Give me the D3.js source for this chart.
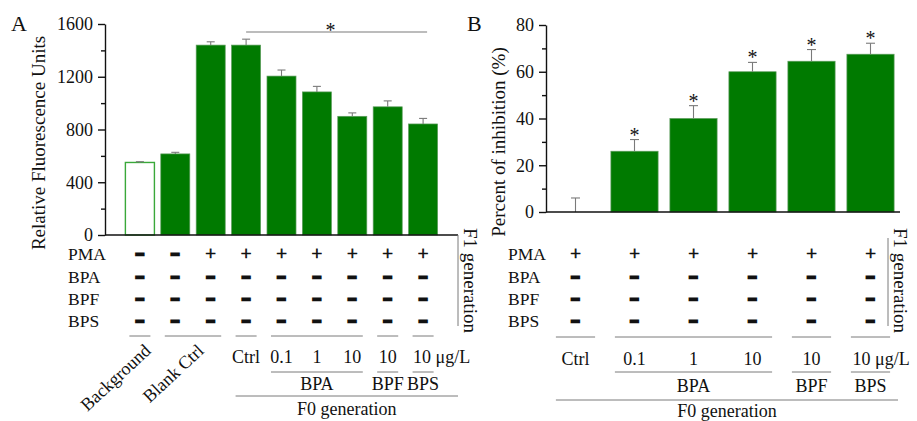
<!DOCTYPE html>
<html>
<head>
<meta charset="utf-8">
<script src="https://cdn.jsdelivr.net/npm/d3@7"></script>
<style>
  body { margin: 0; background: #fff; }
  svg text { font-family: "Liberation Serif", "Times New Roman", serif; fill: #111; }
</style>
</head>
<body>
<svg id="chart" width="917" height="421"></svg>
<script>
// ---- panel A: relative fluorescence, one bar per column ----
var colsA   = ["Background", "Blank Ctrl -", "Blank Ctrl +", "Ctrl", "BPA 0.1", "BPA 1", "BPA 10", "BPF 10", "BPS 10"];
var valuesA = [550, 615, 1440, 1440, 1205, 1085, 900, 972, 842];
var errorsA = [6, 12, 25, 45, 46, 42, 26, 45, 42];
var pmaA    = ["-", "-", "+", "+", "+", "+", "+", "+", "+"];
var doseA   = ["", "", "", "Ctrl", "0.1", "1", "10", "10", "10"];
var ticksA  = [0, 400, 800, 1200, 1600];
var minorA  = [200, 600, 1000, 1400];
// underline groups: [label, first col, last col]
var groupsA = [["Background", 0, 0], ["Blank Ctrl", 1, 2], ["", 3, 3], ["", 4, 6], ["", 7, 7], ["", 8, 8]];
var compA   = [["BPA", 4, 6], ["BPF", 7, 7], ["BPS", 8, 8]];
var f0A     = [3, 8];

// ---- panel B: percent of inhibition ----
var colsB   = ["Ctrl", "BPA 0.1", "BPA 1", "BPA 10", "BPF 10", "BPS 10"];
var valuesB = [0, 26, 40, 60, 64.5, 67.5];
var errorsB = [6, 5, 5.5, 4, 5, 4.7];
var sigB    = [false, true, true, true, true, true];
var pmaB    = ["+", "+", "+", "+", "+", "+"];
var doseB   = ["Ctrl", "0.1", "1", "10", "10", "10"];
var ticksB  = [0, 20, 40, 60, 80];
var minorB  = [10, 30, 50, 70];
var groupsB = [["", 0, 0], ["", 1, 3], ["", 4, 4], ["", 5, 5]];
var compB   = [["BPA", 1, 3], ["BPF", 4, 4], ["BPS", 5, 5]];
var f0B     = [0, 5];

var rowNames = ["PMA", "BPA", "BPF", "BPS"];

var GREEN = "#007a00", GREY = "#7a7a7a";
var svg = d3.select("#chart");

function drawPanel(p) {
  var g = svg.append("g");
  var x = d3.scaleBand().domain(d3.range(p.cols.length)).range(p.xr)
            .paddingInner(p.pi).paddingOuter(p.po);
  var y = d3.scaleLinear().domain(p.yDomain).range(p.yr);
  var bw = x.bandwidth();
  var cx = function(i) { return x(i) + bw / 2; };

  // bars
  g.selectAll("rect.bar").data(p.values).enter().append("rect")
    .attr("x", function(d, i) { return x(i); })
    .attr("y", function(d) { return y(d); })
    .attr("width", bw)
    .attr("height", function(d) { return y(0) - y(d); })
    .attr("fill", function(d, i) { return p.hollow && p.hollow(i) ? "#fff" : GREEN; })
    .attr("stroke", function(d, i) { return p.hollow && p.hollow(i) ? "#3aa83a" : "#5c9c5c"; })
    .attr("stroke-width", function(d, i) { return p.hollow && p.hollow(i) ? 1.4 : 0.7; });

  // error bars (upper only)
  var eb = g.selectAll("g.err").data(p.values).enter().append("g")
    .attr("stroke", GREY).attr("stroke-width", 1.1);
  eb.append("line")
    .attr("x1", function(d, i) { return cx(i); }).attr("x2", function(d, i) { return cx(i); })
    .attr("y1", function(d) { return y(d); })
    .attr("y2", function(d, i) { return y(d + p.errors[i]); });
  eb.append("line")
    .attr("x1", function(d, i) { return cx(i) - p.cap; }).attr("x2", function(d, i) { return cx(i) + p.cap; })
    .attr("y1", function(d, i) { return y(d + p.errors[i]); })
    .attr("y2", function(d, i) { return y(d + p.errors[i]); });

  // y axis
  var ax = g.append("g").attr("transform", "translate(" + p.xr[0] + ",0)")
    .call(d3.axisLeft(y).tickValues(p.ticks).tickFormat(d3.format("d"))
      .tickSize(7).tickSizeOuter(0).tickPadding(5));
  ax.select(".domain").attr("stroke", "#111").attr("stroke-width", 1.4);
  ax.selectAll(".tick line").attr("stroke", "#111").attr("stroke-width", 1.4);
  ax.selectAll("text").style("font-size", "18px").attr("fill", "#111")
    .style("font-family", "'Liberation Serif', serif");
  var mi = g.append("g").attr("transform", "translate(" + p.xr[0] + ",0)")
    .call(d3.axisLeft(y).tickValues(p.minor).tickSize(4).tickFormat(""));
  mi.select(".domain").remove();
  mi.selectAll(".tick line").attr("stroke", "#111").attr("stroke-width", 1.4);

  // baseline
  g.append("line").attr("x1", p.xr[0]).attr("x2", p.baseEnd)
    .attr("y1", y(0)).attr("y2", y(0)).attr("stroke", "#111").attr("stroke-width", 1.4);

  // panel letter + y title
  g.append("text").attr("x", p.letterX).attr("y", 31).style("font-size", "22px").text(p.letter);
  g.append("text").attr("transform", "translate(" + p.titleX + "," + p.titleY + ") rotate(-90)")
    .attr("text-anchor", "middle").style("font-size", "19px").text(p.title);

  // treatment table
  var rowY = [254, 277, 299, 321];
  rowNames.forEach(function(name, r) {
    g.append("text").attr("x", p.rowX).attr("y", rowY[r] + 6).style("font-size", "17.5px").text(name);
    var signs = r === 0 ? p.pma : p.cols.map(function() { return "-"; });
    g.selectAll(null).data(signs).enter().append("text")
      .attr("x", function(d, i) { return cx(i); })
      .attr("y", function(d) { return rowY[r] + (d === "+" ? 5.5 : 4.5); })
      .attr("text-anchor", "middle")
      .style("font-size", function(d) { return d === "+" ? "19px" : "14px"; })
      .attr("stroke", "#111")
      .attr("stroke-width", function(d) { return d === "+" ? 0.7 : 3; })
      .text(function(d) { return d === "+" ? "+" : "\u2212"; });
  });

  // F1 generation bracket
  g.append("line").attr("x1", p.f1X).attr("x2", p.f1X).attr("y1", p.f1Top).attr("y2", 326)
    .attr("stroke", GREY).attr("stroke-width", 1);
  g.append("text").attr("transform", "translate(" + (p.f1X + 6) + ",228) rotate(90)")
    .style("font-size", "19px").text("F1 generation");

  // first-level underlines
  var gl = function(arr, yy) {
    arr.forEach(function(gr) {
      g.append("line").attr("x1", x(gr[1]) + 4).attr("x2", x(gr[2]) + bw - 4)
        .attr("y1", yy).attr("y2", yy).attr("stroke", GREY).attr("stroke-width", 1);
    });
  };
  gl(p.groups, p.l1);
  p.groups.forEach(function(gr) {
    if (!gr[0]) return;
    var c = (cx(gr[1]) + cx(gr[2])) / 2;
    g.append("text").attr("transform", "translate(" + (c + 12) + ",352) rotate(-43)")
      .attr("text-anchor", "end").style("font-size", "18px").text(gr[0]);
  });

  // dose labels (the last one carries the unit)
  p.dose.forEach(function(d, i) {
    if (!d) return;
    var last = i === p.dose.length - 1;
    g.append("text").attr("x", last ? cx(i) - p.unitShift : cx(i)).attr("y", p.doseY)
      .attr("text-anchor", last ? "start" : "middle").style("font-size", "18px")
      .text(last ? d + " \u03bcg/L" : d);
  });

  // compound underlines + names
  gl(p.comp, 372);
  p.comp.forEach(function(gr) {
    g.append("text").attr("x", (cx(gr[1]) + cx(gr[2])) / 2).attr("y", p.compY)
      .attr("text-anchor", "middle").style("font-size", "18px").text(gr[0]);
  });

  // F0 generation
  g.append("line").attr("x1", x(p.f0[0]) + 4).attr("x2", p.f0End)
    .attr("y1", p.f0Line).attr("y2", p.f0Line).attr("stroke", GREY).attr("stroke-width", 1);
  g.append("text").attr("x", (x(p.f0[0]) + 4 + p.f0End) / 2).attr("y", p.f0Y)
    .attr("text-anchor", "middle").style("font-size", "18px").text("F0 generation");

  return { g: g, x: x, y: y, cx: cx };
}

var A = drawPanel({
  cols: colsA, values: valuesA, errors: errorsA, pma: pmaA, dose: doseA,
  ticks: ticksA, minor: minorA, groups: groupsA, comp: compA, f0: f0A,
  yDomain: [0, 1600], xr: [105, 458], yr: [235, 24], pi: 0.18, po: 0.576, cap: 4,
  hollow: function(i) { return i === 0; }, baseEnd: 458, unitShift: 10,
  letter: "A", letterX: 11, title: "Relative Fluorescence Units", titleX: 45, titleY: 143,
  rowX: 68, f1X: 458, f1Top: 235, l1: 336, doseY: 363, compY: 390, f0Line: 396, f0Y: 415, f0End: 458
});

var B = drawPanel({
  cols: colsB, values: valuesB, errors: errorsB, pma: pmaB, dose: doseB,
  ticks: ticksB, minor: minorB, groups: groupsB, comp: compB, f0: f0B,
  yDomain: [0, 80], xr: [546, 900], yr: [212, 25], pi: 0.2, po: 0.1, cap: 4.5,
  baseEnd: 900, unitShift: 18,
  letter: "B", letterX: 467, title: "Percent of inhibition (%)", titleX: 505, titleY: 142,
  rowX: 508, f1X: 888, f1Top: 238, l1: 337, doseY: 365, compY: 392, f0Line: 400, f0Y: 417, f0End: 898
});

// significance in A: bracket line over Ctrl..BPS
A.g.append("line").attr("x1", A.cx(3)).attr("x2", A.cx(8) + 4)
  .attr("y1", 32).attr("y2", 32).attr("stroke", GREY).attr("stroke-width", 1.1);
A.g.append("text").attr("x", (A.cx(3) + A.cx(8)) / 2 - 4).attr("y", 37)
  .attr("text-anchor", "middle").style("font-size", "20px").attr("fill", "#333").text("*");

// significance in B: star above each error cap
B.g.selectAll(null).data(valuesB).enter().filter(function(d, i) { return sigB[i]; })
  .append("text")
  .attr("x", function(d) { return B.cx(valuesB.indexOf(d)); })
  .attr("y", function(d) { var i = valuesB.indexOf(d); return B.y(d + errorsB[i]) + 2; })
  .attr("text-anchor", "middle").style("font-size", "20px").attr("fill", "#333").text("*");
</script>
</body>
</html>
